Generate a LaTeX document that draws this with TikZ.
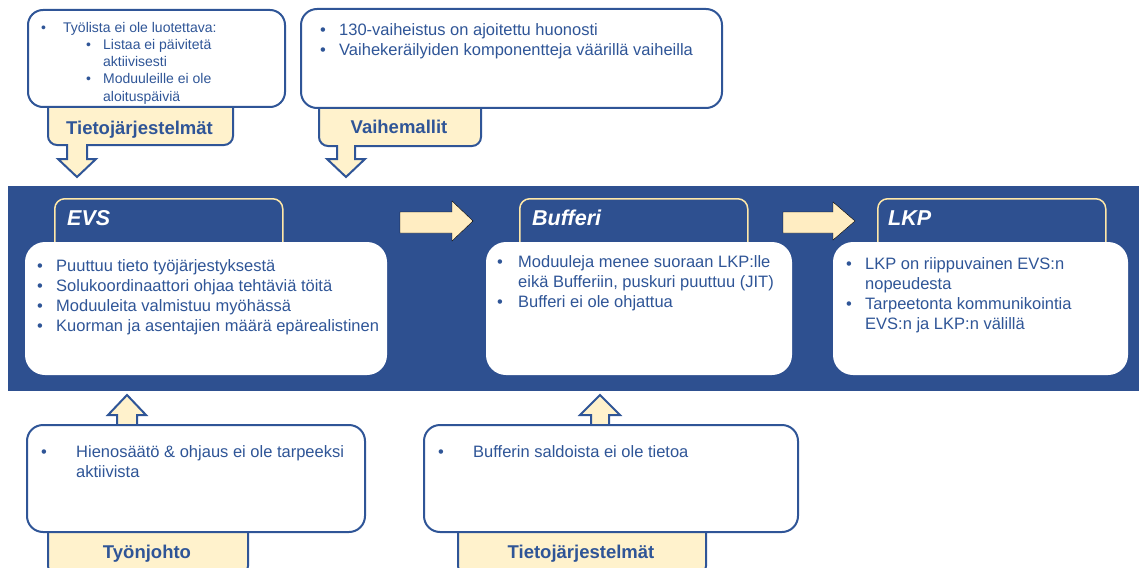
\documentclass[tikz,border=0pt]{standalone}
\usepackage{fontspec}
\setmainfont{Liberation Sans}
\definecolor{band}{HTML}{2E5090}
\definecolor{ink}{HTML}{2F5597}
\definecolor{cream}{HTML}{FFF2CC}
\definecolor{creamarrow}{HTML}{FFEDC2}
\definecolor{tabline}{HTML}{FFE8A8}

\newcommand\bodyfont{\fontsize{16.5}{20}\selectfont}
\newcommand\smallbody{\fontsize{14}{17.2}\selectfont}
\newcommand\labelfont{\fontsize{18.5}{22}\selectfont\bfseries}
\newcommand\titlefont{\fontsize{21.5}{26}\selectfont\bfseries\itshape}
\newcommand\bul[1]{\makebox[#1][l]{\strut\textbullet}}
\newcommand\ind[1]{\hspace*{#1}\strut}

\begin{document}
\begin{tikzpicture}[x=1pt,y=-1pt,
  box/.style={draw=ink, line width=2pt, fill=white, rounded corners=16pt, inner sep=0pt, outer sep=0pt, anchor=north west},
  inbox/.style={fill=white, rounded corners=20pt, inner sep=0pt, outer sep=0pt, anchor=north west},
  bandtab/.style={draw=tabline, line width=1.5pt, fill=band, rounded corners=10pt, inner sep=0pt, anchor=north west},
  labeltab/.style={draw=ink, line width=2pt, fill=cream, rounded corners=9pt, inner sep=0pt, anchor=north west},
  blockarrow/.style={draw=ink, line width=2pt, fill=cream, line join=miter},
  bandarrow/.style={fill=creamarrow},
  txt/.style={anchor=north west, inner sep=0pt, align=left, text=ink, font=\bodyfont},
  lbl/.style={anchor=base, inner sep=0pt, text=ink, font=\labelfont},
  ttl/.style={anchor=base west, inner sep=0pt, text=white, font=\titlefont}]

\useasboundingbox (0,0) rectangle (1139,567);

% process band
\node[fill=band, minimum width=1131pt, minimum height=205pt, inner sep=0pt, anchor=north west] (band) at (8,186) {};

% stage tabs
\node[bandtab, minimum width=228pt, minimum height=64pt] (evstab) at (54,198) {};
\node[bandtab, minimum width=228pt, minimum height=64pt] (buftab) at (519,198) {};
\node[bandtab, minimum width=228pt, minimum height=64pt] (lkptab) at (877,198) {};
\node[ttl] (evstitle) at (67,225) {EVS};
\node[ttl] (buftitle) at (532,225) {Bufferi};
\node[ttl] (lkptitle) at (888,225) {LKP};

% stage boxes
\node[inbox, minimum width=362pt, minimum height=133pt] (evsbox) at (25,242) {};
\node[inbox, minimum width=306pt, minimum height=133pt] (bufbox) at (486,242) {};
\node[inbox, minimum width=295pt, minimum height=133pt] (lkpbox) at (833,242) {};

\node[txt] (evstext) at (37,257) {%
\bul{19pt}Puuttuu tieto työjärjestyksestä\\
\bul{19pt}Solukoordinaattori ohjaa tehtäviä töitä\\
\bul{19pt}Moduuleita valmistuu myöhässä\\
\bul{19pt}Kuorman ja asentajien määrä epärealistinen};

\node[txt] (buftext) at (497,253) {%
\bul{21pt}Moduuleja menee suoraan LKP:lle\\
\ind{21pt}eikä Bufferiin, puskuri puuttuu (JIT)\\
\bul{21pt}Bufferi ei ole ohjattua};

\node[txt] (lkptext) at (846,255) {%
\bul{19pt}LKP on riippuvainen EVS:n\\
\ind{19pt}nopeudesta\\
\bul{19pt}Tarpeetonta kommunikointia\\
\ind{19pt}EVS:n ja LKP:n välillä};

% flow arrows between stages
\draw[bandarrow] (400,212) -- (452,212) -- (452,201) -- (473,221) -- (452,241) -- (452,233) -- (400,233) -- cycle;
\draw[bandarrow] (783,212) -- (833,212) -- (833,202) -- (855,221) -- (833,240) -- (833,233) -- (783,233) -- cycle;

% upper causes
\node[labeltab, minimum width=185pt, minimum height=49pt] (systab1) at (47,95) {};
\node[box, rounded corners=15pt, minimum width=257pt, minimum height=97pt] (sysbox1) at (28,10) {};
\node[txt, font=\smallbody] (systext1) at (41,20) {%
\bul{22pt}Työlista ei ole luotettava:\\
\hspace*{45pt}\bul{17pt}Listaa ei päivitetä\\
\ind{62pt}aktiivisesti\\
\hspace*{45pt}\bul{17pt}Moduuleille ei ole\\
\ind{62pt}aloituspäiviä};
\node[lbl] (syslabel1) at (139.5,134) {Tietojärjestelmät};

\node[labeltab, minimum width=162pt, minimum height=50pt] (phasetab) at (318,95) {};
\node[box, minimum width=421pt, minimum height=99pt] (phasebox) at (301,9) {};
\node[txt] (phasetext) at (320,21) {%
\bul{19pt}130-vaiheistus on ajoitettu huonosti\\
\bul{19pt}Vaihekeräilyiden komponentteja väärillä vaiheilla};
\node[lbl] (phaselabel) at (399,133) {Vaihemallit};

\draw[blockarrow] (67,144) -- (67,159) -- (58,159) -- (77,177) -- (96,159) -- (87,159) -- (87,144);
\draw[blockarrow] (337,145) -- (337,159) -- (327,159) -- (346,177) -- (365,159) -- (355,159) -- (355,145);

% lower causes
\draw[blockarrow] (117,425) -- (117,415) -- (108,415) -- (127,395) -- (146,415) -- (137,415) -- (137,425);
\draw[blockarrow] (591,425) -- (591,415) -- (580,415) -- (600,395) -- (620,415) -- (609,415) -- (609,425);

\node[labeltab, minimum width=200pt, minimum height=54pt] (leadtab) at (47,520) {};
\node[box, minimum width=338pt, minimum height=107pt] (leadbox) at (27,425) {};
\node[txt] (leadtext) at (41,443) {%
\bul{35pt}Hienosäätö \& ohjaus ei ole tarpeeksi\\
\ind{35pt}aktiivista};
\node[lbl] (leadlabel) at (147,558) {Työnjohto};

\node[labeltab, minimum width=248pt, minimum height=54pt] (systab2) at (457,520) {};
\node[box, minimum width=374pt, minimum height=107pt] (sysbox2) at (424,425) {};
\node[txt] (systext2) at (438,443) {%
\bul{35pt}Bufferin saldoista ei ole tietoa};
\node[lbl] (syslabel2) at (581,558) {Tietojärjestelmät};

\end{tikzpicture}
\end{document}
